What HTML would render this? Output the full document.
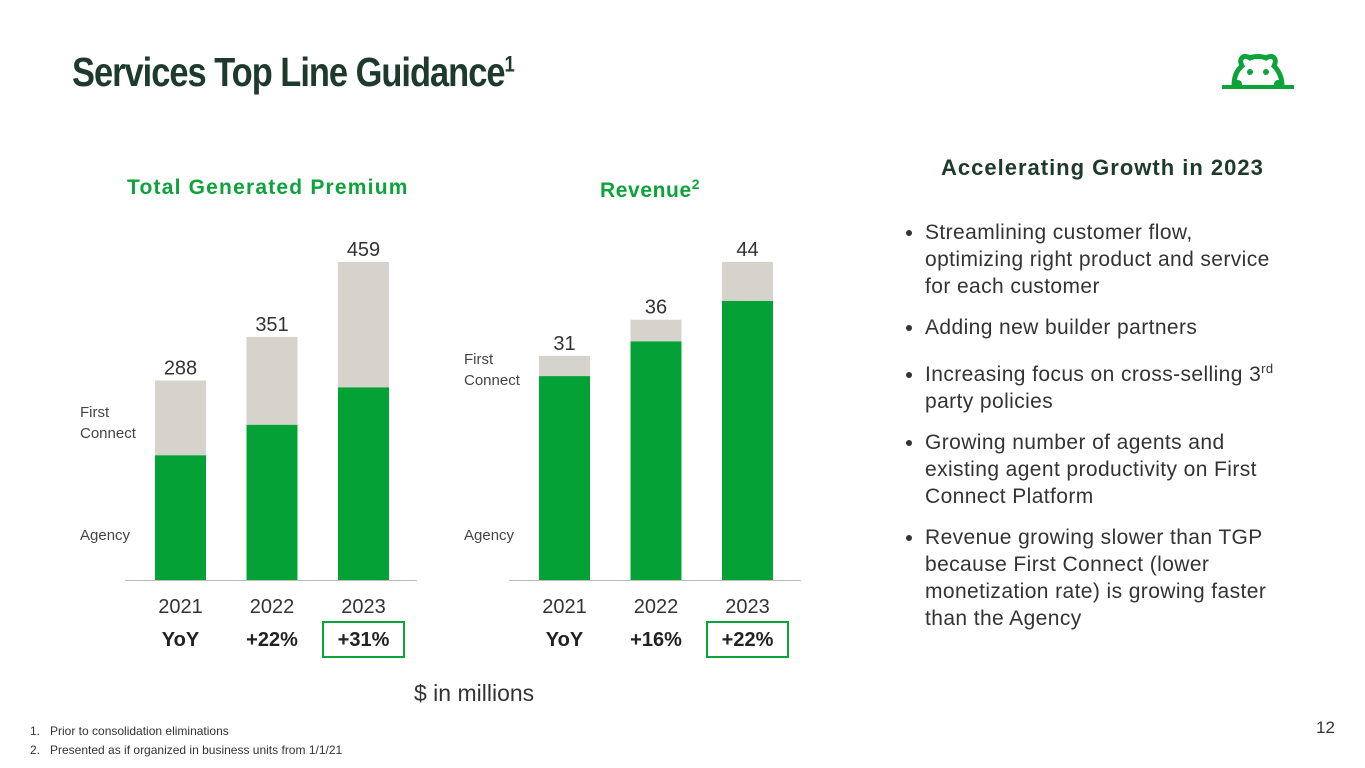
<!DOCTYPE html>
<html><head><meta charset="utf-8"><style>
body{margin:0;width:1365px;height:768px;background:#fff;font-family:"Liberation Sans",sans-serif;position:relative;overflow:hidden;color:#222}
.a{position:absolute;white-space:nowrap}
.title{left:72px;top:49px;font-size:41px;font-weight:bold;color:#1d3a2c;letter-spacing:-1.2px;transform:scaleX(0.84);transform-origin:left}
.ct{font-size:21px;font-weight:bold;color:#0ca33a;letter-spacing:0.6px}
.bl{font-size:21px;color:#333;line-height:27px;letter-spacing:0.4px}
.bl li{margin-bottom:14px}
</style></head><body>
<div class="a title">Services Top Line Guidance<sup style="font-size:22px">1</sup></div>
<svg class="a" style="left:1220px;top:50px" width="76" height="42">
<path d="M14 36 C14 22 20 18 22 16 C18 8 24 4 30 8 C34 6 42 6 46 8 C52 4 58 8 54 16 C58 20 62 26 62 36" fill="none" stroke="#0ca33a" stroke-width="5"/>
<circle cx="30" cy="22" r="3" fill="#0ca33a"/><circle cx="46" cy="22" r="3" fill="#0ca33a"/>
<circle cx="18" cy="34" r="4" fill="#0ca33a"/><circle cx="58" cy="34" r="4" fill="#0ca33a"/>
<rect x="2" y="35" width="72" height="4" fill="#0ca33a"/></svg>
<div class="a ct" style="left:127px;top:176px;letter-spacing:1.2px">Total Generated Premium</div>
<div class="a ct" style="left:600px;top:176px">Revenue<sup style="font-size:14px">2</sup></div>
<div class="a" style="left:941px;top:155px;font-size:22px;font-weight:bold;color:#1d3a2c;letter-spacing:1px">Accelerating Growth in 2023</div>
<ul class="a bl" style="left:895px;top:219px;margin:0;padding:0 0 0 30px;width:370px;white-space:normal">
<li>Streamlining customer flow, optimizing right product and service for each customer</li>
<li>Adding new builder partners</li>
<li>Increasing focus on cross-selling 3<sup style="font-size:13px">rd</sup> party policies</li>
<li>Growing number of agents and existing agent productivity on First Connect Platform</li>
<li>Revenue growing slower than TGP because First Connect (lower monetization rate) is growing faster than the Agency</li>
</ul>
<svg id="ch" class="a" style="left:0;top:0" width="860" height="720"></svg>
<div class="a" style="left:414px;top:680px;font-size:23px;color:#333">$ in millions</div>
<div class="a" style="left:30px;top:722px;font-size:12px;color:#333;line-height:19px">1.&nbsp;&nbsp;&nbsp;Prior to consolidation eliminations<br>2.&nbsp;&nbsp;&nbsp;Presented as if organized in business units from 1/1/21</div>
<div class="a" style="left:1316px;top:718px;font-size:17px;color:#333">12</div>
<script>
const years=["2021","2022","2023"];
const tgpTotal=[288,351,459];
const tgpAgency=[180,224,278];
const tgpYoY=["YoY","+22%","+31%"];
const revTotal=[31,36,44];
const revAgency=[28.2,33.0,38.6];
const revYoY=["YoY","+16%","+22%"];
const NS="http://www.w3.org/2000/svg",svg=document.getElementById('ch');
function el(t,a,txt){const e=document.createElementNS(NS,t);for(const k in a)e.setAttribute(k,a[k]);if(txt!=null)e.textContent=txt;svg.appendChild(e);return e;}
function chart(x0,total,agency,yoy,scale,name,fcY){
 const base=580,step=91.5,w=51;
 const y=v=>base-v*scale;
 const ax=el('line',{x1:x0-30,x2:x0+262,y1:base+0.5,y2:base+0.5,stroke:'#bbb','stroke-width':1});
 
 years.forEach((yr,i)=>{
  const x=x0+i*step;
  const fc=el('rect',{x:x,y:y(total[i]),width:w,height:(total[i]-agency[i])*scale,fill:'#d6d3cd'});
  
  const ag=el('rect',{x:x,y:y(agency[i]),width:w,height:agency[i]*scale,fill:'#04a236'});
  
  const lb=el('text',{x:x+w/2,y:y(total[i])-6,'text-anchor':'middle','font-size':20,fill:'#333'},total[i]);
  
  const yl=el('text',{x:x+w/2,y:613,'text-anchor':'middle','font-size':20,fill:'#333'},yr);
  
  const yy=el('text',{x:x+w/2,y:646,'text-anchor':'middle','font-size':20,'font-weight':'bold',fill:'#222'},yoy[i]);
  
 });
 const bx=el('rect',{x:x0+2*step-15,y:622,width:w+30,height:35,fill:'none',stroke:'#0ca33a','stroke-width':2});
 
 const f1=el('text',{x:x0-75,y:fcY,'font-size':15,fill:'#444'},'First');
 
 const f2=el('text',{x:x0-75,y:fcY+21,'font-size':15,fill:'#444'},'Connect');
 
 const a=el('text',{x:x0-75,y:540,'font-size':15,fill:'#444'},'Agency');
 
}
chart(155,tgpTotal,tgpAgency,tgpYoY,0.6928,'tgp',417);
chart(539,revTotal,revAgency,revYoY,7.23,'revenue',364);
</script>
</body></html>
